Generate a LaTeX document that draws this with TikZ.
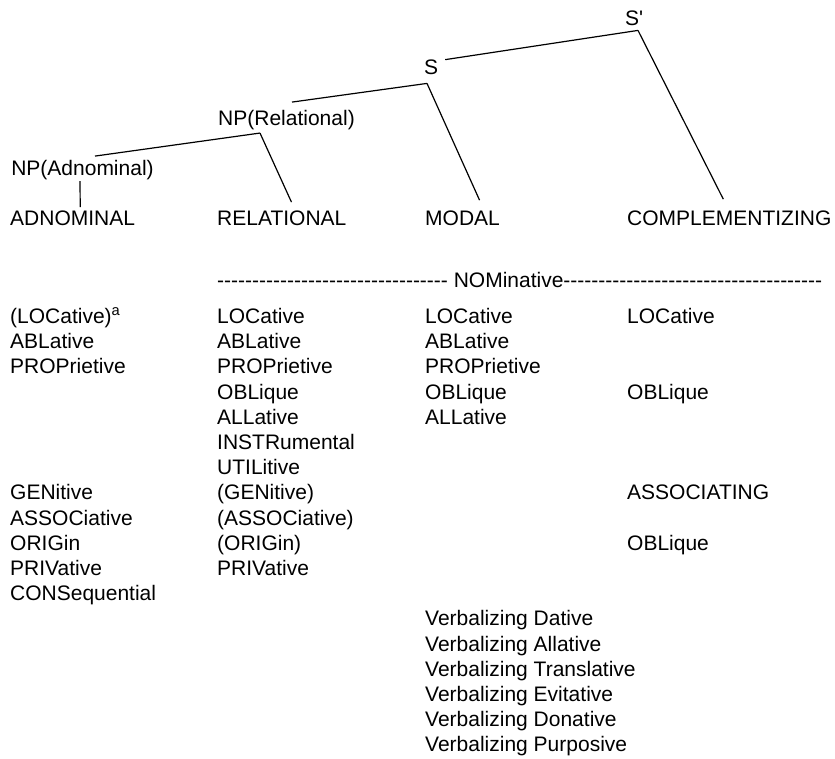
\documentclass[tikz,border=0pt]{standalone}
\usepackage{fontspec}
\newfontfamily\diagfont{Liberation Sans}
\usepackage{tikz}

\begin{document}
\begin{tikzpicture}
        [x=1pt, y=-1pt,
        font=\diagfont\fontsize{21}{25}\selectfont,
        tstyle/.style={anchor=base, inner sep=0pt},
        cstyle/.style={anchor=base west, inner sep=0pt},
        kstyle/.style={anchor=base west, inner sep=0pt},
        lstyle/.style={line width=1.2pt}]
        
        \useasboundingbox (0,0) rectangle (835,758);
        
        \node[tstyle] (sbar)   at (634,25)    {S'};
        \node[tstyle] (s)      at (431,74.5)  {S};
        \node[tstyle] (nprel)  at (286.5,125.5) {NP(Relational)};
        \node[tstyle] (npadn)  at (82.5,175.5)  {NP(Adnominal)};
        
        \node[cstyle] (adnom)  at (10,225.5)  {ADNOMINAL};
        \node[cstyle] (relat)  at (217,225.5) {RELATIONAL};
        \node[cstyle] (modal)  at (425,225.5) {MODAL};
        \node[cstyle] (compl)  at (627,225.5) {COMPLEMENTIZING};
        
        \draw[lstyle] ([xshift=4pt,yshift=-5pt]sbar.south) -- ([xshift=7pt]s.north east);
        \draw[lstyle] ([xshift=4pt,yshift=-5pt]sbar.south) -- ([xshift=-6pt,yshift=11.5pt]compl.north);
        \draw[lstyle] ([xshift=-4pt,yshift=-8.5pt]s.south) -- ([xshift=5.5pt,yshift=8pt]nprel.north);
        \draw[lstyle] ([xshift=-4pt,yshift=-8.5pt]s.south) -- ([xshift=17pt,yshift=10.5pt]modal.north);
        \draw[lstyle] ([xshift=-26.5pt,yshift=-3pt]nprel.south) -- ([xshift=12.5pt,yshift=4pt]npadn.north);
        \draw[lstyle] ([xshift=-26.5pt,yshift=-3pt]nprel.south) -- ([xshift=9.7pt,yshift=8.5pt]relat.north);
        \draw[lstyle] ([xshift=-2.5pt,yshift=-1pt]npadn.south) -- ([xshift=7.6pt,yshift=3.5pt]adnom.north);
        
        \node[kstyle] (nom) at (217,287.5) {--------------------------------- NOMinative-------------------------------------};
        
        % adnominal cases
        \node[kstyle] (adnloc)  at (10,323.5) {(LOCative)\textsuperscript{a}};
        \node[kstyle] (adnabl)  at (10,348.7) {ABLative};
        \node[kstyle] (adnprop) at (10,373.9) {PROPrietive};
        \node[kstyle] (adngen)  at (10,499.9) {GENitive};
        \node[kstyle] (adnass)  at (10,525.1) {ASSOCiative};
        \node[kstyle] (adnori)  at (10,550.3) {ORIGin};
        \node[kstyle] (adnpriv) at (10,575.5) {PRIVative};
        \node[kstyle] (adncons) at (10,600.7) {CONSequential};
        
        % relational cases
        \node[kstyle] (relloc)  at (217,323.5) {LOCative};
        \node[kstyle] (relabl)  at (217,348.7) {ABLative};
        \node[kstyle] (relprop) at (217,373.9) {PROPrietive};
        \node[kstyle] (relobl)  at (217,399.1) {OBLique};
        \node[kstyle] (relall)  at (217,424.3) {ALLative};
        \node[kstyle] (relins)  at (217,449.5) {INSTRumental};
        \node[kstyle] (relutil) at (217,474.7) {UTILitive};
        \node[kstyle] (relgen)  at (217,499.9) {(GENitive)};
        \node[kstyle] (relass)  at (217,525.1) {(ASSOCiative)};
        \node[kstyle] (relori)  at (217,550.3) {(ORIGin)};
        \node[kstyle] (relpriv) at (217,575.5) {PRIVative};
        
        % modal cases
        \node[kstyle] (modloc)  at (425,323.5) {LOCative};
        \node[kstyle] (modabl)  at (425,348.7) {ABLative};
        \node[kstyle] (modprop) at (425,373.9) {PROPrietive};
        \node[kstyle] (modobl)  at (425,399.1) {OBLique};
        \node[kstyle] (modall)  at (425,424.3) {ALLative};
        \node[kstyle] (vdat)    at (425,625.9) {Verbalizing Dative};
        \node[kstyle] (vall)    at (425,651.1) {Verbalizing Allative};
        \node[kstyle] (vtrans)  at (425,676.3) {Verbalizing Translative};
        \node[kstyle] (vevit)   at (425,701.5) {Verbalizing Evitative};
        \node[kstyle] (vdon)    at (425,726.7) {Verbalizing Donative};
        \node[kstyle] (vpurp)   at (425,751.9) {Verbalizing Purposive};
        
        % complementizing cases
        \node[kstyle] (cmploc)  at (627,323.5) {LOCative};
        \node[kstyle] (cmpobl)  at (627,399.1) {OBLique};
        \node[kstyle] (cmpass)  at (627,499.9) {ASSOCIATING};
        \node[kstyle] (cmpobl2) at (627,550.3) {OBLique};
    \end{tikzpicture}
\end{document}
